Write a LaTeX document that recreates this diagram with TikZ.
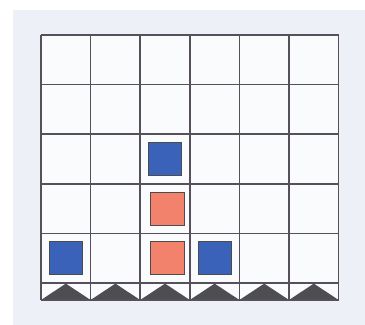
\documentclass[tikz,border=0pt]{standalone}
\usepackage{tikz}

\definecolor{paper}{HTML}{EDF0F7}
\definecolor{cellbg}{HTML}{FAFBFD}
\definecolor{gridline}{HTML}{55505A}
\definecolor{tileblue}{HTML}{3B62B9}
\definecolor{tilesalmon}{HTML}{F2826C}
\definecolor{spike}{HTML}{4E4D52}

\begin{document}
\begin{tikzpicture}[
  x=1cm, y=1cm,
  tile/.style={draw=black!70, line width=0.5pt, minimum size=0.67cm, inner sep=0pt},
  bluetile/.style={tile, fill=tileblue},
  redtile/.style={tile, fill=tilesalmon},
  gridln/.style={draw=gridline, line width=0.9pt}
]
\useasboundingbox (-0.827,-0.504) rectangle (6.532,6.048);
\fill[white] (-0.827,-0.504) rectangle (6.532,6.048);
\fill[paper] (-0.565,-0.6) rectangle (6.6,5.847);
\fill[cellbg] (0,0) rectangle (6,5.343);

% spikes along the bottom strip
\foreach \c in {0,...,5}
  \fill[spike] (\c,0) -- (\c+0.5,0.33) -- (\c+1,0) -- cycle;

% grid
\foreach \c in {0,...,6}
  \draw[gridln] (\c,0) -- (\c,5.343);
\foreach \r in {0,...,5}
  \draw[gridln] (0,\r+0.343) -- (6,\r+0.343);
\draw[gridln] (0,0) -- (6,0);

% tiles
\node[bluetile] (b1) at (2.5,2.843) {};
\node[redtile]  (r1) at (2.55,1.843) {};
\node[redtile]  (r2) at (2.55,0.843) {};
\node[bluetile] (b2) at (0.5,0.843) {};
\node[bluetile] (b3) at (3.5,0.843) {};
\end{tikzpicture}
\end{document}
